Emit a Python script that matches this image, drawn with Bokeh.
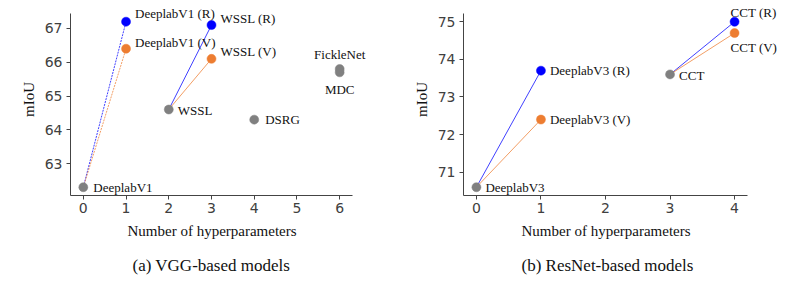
from bokeh.plotting import figure
from bokeh.layouts import row
from bokeh.models import Range1d, FixedTicker, Label, Title
from bokeh.embed import file_html
from bokeh.resources import INLINE

# ---------------- data ----------------
vgg_names = ["DeeplabV1", "DeeplabV1 (R)", "DeeplabV1 (V)", "WSSL", "WSSL (R)", "WSSL (V)",
             "DSRG", "FickleNet", "MDC"]
vgg_hparams = [0, 1, 1, 2, 3, 3, 4, 6, 6]
vgg_miou = [62.3, 67.2, 66.4, 64.6, 67.1, 66.1, 64.3, 65.8, 65.7]
vgg_kind = ["base", "R", "V", "base", "R", "V", "base", "base", "base"]
vgg_links = [(0, 1), (0, 2), (3, 4), (3, 5)]

res_names = ["DeeplabV3", "DeeplabV3 (R)", "DeeplabV3 (V)", "CCT", "CCT (R)", "CCT (V)"]
res_hparams = [0, 1, 1, 3, 4, 4]
res_miou = [70.6, 73.7, 72.4, 73.6, 75.0, 74.7]
res_kind = ["base", "R", "V", "base", "R", "V"]
res_links = [(0, 1), (0, 2), (3, 4), (3, 5)]

vgg_xticks = [0, 1, 2, 3, 4, 5, 6]
vgg_yticks = [63, 64, 65, 66, 67]
res_xticks = [0, 1, 2, 3, 4]
res_yticks = [71, 72, 73, 74, 75]

x_title = "Number of hyperparameters"
y_title = "mIoU"
captions = ["(a) VGG-based models", "(b) ResNet-based models"]

# ---------------- styles / label placement ----------------
COLORS = {"base": "#808080", "R": "#0000ff", "V": "#ed7d31"}
SERIF = "Liberation Serif"

vgg_label_pos = [(10, 0, "left"), (9, 8, "left"), (9, 6, "left"), (9, -1, "left"),
                 (9, 7, "left"), (9, 7, "left"), (11, 0, "left"), (0, 14, "center"),
                 (0, -17, "center")]
res_label_pos = [(9, 0, "left"), (9, 0, "left"), (9, 0, "left"), (9, -1, "left"),
                 (-4, 9, "left"), (-4, -14, "left")]


def make_panel(names, xs, ys, kinds, links, axis_x, axis_y, view_x, view_y,
               xticks, yticks, label_pos, caption, width, mbl, mbr, mbb,
               xlab_off, cap_off, dashed_first=False):
    p = figure(width=width, height=285, x_range=Range1d(*view_x), y_range=Range1d(*view_y),
               output_backend="svg", toolbar_location=None,
               min_border_left=mbl, min_border_right=mbr,
               min_border_top=3, min_border_bottom=mbb)
    p.outline_line_color = None
    p.grid.visible = False
    p.background_fill_color = "white"
    p.border_fill_color = "white"

    for ax, ticks, bnds in ((p.xaxis[0], xticks, axis_x), (p.yaxis[0], yticks, axis_y)):
        ax.ticker = FixedTicker(ticks=ticks)
        ax.bounds = bnds
        ax.minor_tick_line_color = None
        ax.major_tick_in = 0
        ax.major_tick_out = 4
        ax.axis_line_color = "#444444"
        ax.major_tick_line_color = "#444444"
        ax.major_label_text_font = "DejaVu Sans"
        ax.major_label_text_font_size = "14px"
        ax.major_label_text_color = "#404040"
        ax.axis_label_text_font = SERIF
        ax.axis_label_text_font_style = "normal"
        ax.axis_label_text_font_size = "15px"
        ax.axis_label_text_color = "#111111"
    p.xaxis[0].major_label_standoff = 3
    p.yaxis[0].major_label_standoff = 4
    p.yaxis[0].axis_label_standoff = 5
    p.yaxis[0].axis_label = y_title

    for a, b in links:
        k = kinds[b]
        dash = "2 1" if (dashed_first and a == 0) else "solid"
        p.line([xs[a], xs[b]], [ys[a], ys[b]], line_color=COLORS[k], line_width=1,
               line_alpha=0.75, line_dash=dash)

    p.scatter(xs, ys, size=9, fill_color=[COLORS[k] for k in kinds],
              line_color=[COLORS[k] for k in kinds], line_width=0.5)

    for name, x, y, (dx, dy, al) in zip(names, xs, ys, label_pos):
        p.add_layout(Label(x=x, y=y, text=name, x_offset=dx, y_offset=dy,
                           text_align=al, text_baseline="middle",
                           text_font=SERIF, text_font_size="13px",
                           text_color="#111111"))

    t1 = Title(text=x_title, align="left", offset=xlab_off, text_font=SERIF,
               text_font_size="15px", text_font_style="normal",
               text_color="#111111", standoff=11)
    p.add_layout(t1, "below")
    t2 = Title(text=caption, align="left", offset=cap_off, text_font=SERIF,
               text_font_size="17px", text_font_style="normal",
               text_color="#111111", standoff=19)
    p.add_layout(t2, "below")
    return p


p1 = make_panel(vgg_names, vgg_hparams, vgg_miou, vgg_kind, vgg_links,
                (-0.3, 6.3), (62.055, 67.445), (-0.3, 6.768), (62.055, 67.738),
                vgg_xticks, vgg_yticks, vgg_label_pos, captions[0],
                395, 70, 23, 88, 57, 62, dashed_first=True)
p2 = make_panel(res_names, res_hparams, res_miou, res_kind, res_links,
                (-0.2, 4.2), (70.38, 75.22), (-0.2, 4.727), (70.38, 75.486),
                res_xticks, res_yticks, res_label_pos, captions[1],
                393, 68, 7, 90, 58, 58)

layout = row(p1, p2)
open("out.html", "w").write(file_html(layout, INLINE))
